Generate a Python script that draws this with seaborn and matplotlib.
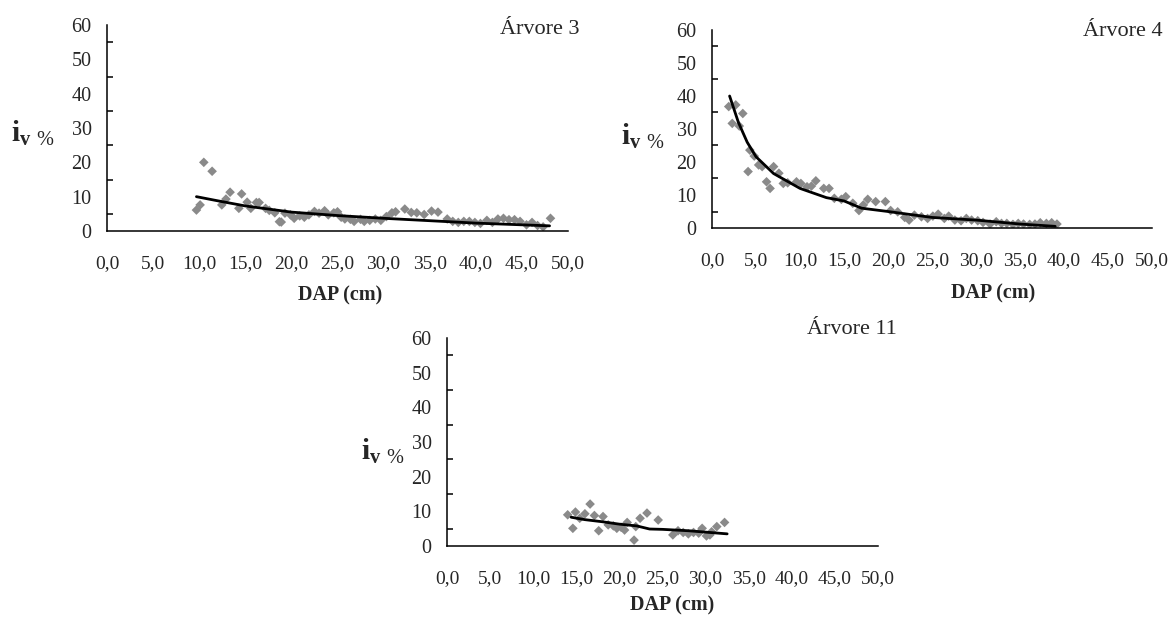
import matplotlib
matplotlib.use("Agg")
import matplotlib.pyplot as plt
import seaborn as sns
import pandas as pd
from matplotlib.ticker import MultipleLocator, FuncFormatter

# ---------------- data ----------------
# Árvore 3
a3_dap = [9.7, 10.1, 10.5, 11.4, 12.45, 12.9, 13.35, 14.3, 14.6, 15.2, 15.6, 16.2, 16.5, 17.2, 17.6,
          18.2, 18.7, 18.9, 19.3, 19.9, 20.3, 20.9, 21.4, 21.9, 22.5, 23.0, 23.6, 24.0, 24.6, 25.0,
          25.4, 25.8, 26.4, 26.8, 27.5, 27.9, 28.5, 29.1, 29.7, 30.3, 30.9, 31.3, 32.3, 33.0, 33.6,
          34.4, 35.2, 35.9, 36.9, 37.5, 38.1, 38.7, 39.3, 39.9, 40.5, 41.2, 41.8, 42.4, 43.0, 43.6,
          44.2, 44.8, 45.5, 46.1, 46.7, 47.3, 48.1]
a3_iv = [6.1, 7.6, 20.0, 17.4, 7.6, 9.3, 11.3, 6.6, 10.8, 8.4, 6.6, 8.3, 8.3, 6.6, 6.0,
         5.3, 2.7, 2.6, 5.2, 4.7, 3.7, 4.4, 4.0, 4.7, 5.7, 5.2, 5.9, 4.7, 5.3, 5.6,
         4.0, 3.5, 3.4, 2.8, 3.4, 2.8, 3.1, 3.5, 3.1, 4.2, 5.3, 5.6, 6.4, 5.4, 5.3,
         4.8, 5.8, 5.5, 3.5, 2.8, 2.5, 2.8, 2.8, 2.5, 2.2, 3.1, 2.5, 3.5, 3.7, 3.3,
         3.3, 2.8, 1.8, 2.5, 1.6, 1.2, 3.7]
a3_fit_dap = [9.7, 12.0, 15.0, 20.0, 25.0, 30.0, 35.0, 40.0, 45.0, 48.0]
a3_fit_iv = [10.0, 8.8, 7.3, 5.5, 4.5, 3.7, 3.0, 2.3, 1.8, 1.5]

# Árvore 4
a4_dap = [1.9, 2.3, 2.7, 3.1, 3.5, 4.1, 4.3, 4.8, 5.3, 5.7, 6.2, 6.6, 7.0, 7.6, 8.1, 8.6, 9.6,
          10.1, 10.8, 11.3, 11.8, 12.7, 13.3, 13.9, 14.7, 15.2, 16.0, 16.7, 17.2, 17.7, 18.6,
          19.7, 20.3, 21.1, 21.9, 22.4, 23.0, 23.8, 24.5, 25.1, 25.7, 26.4, 26.9, 27.6, 28.3,
          28.9, 29.5, 30.2, 30.8, 31.6, 32.3, 32.9, 33.5, 34.2, 34.8, 35.4, 36.1, 36.7, 37.3,
          38.0, 38.6, 39.2]
a4_iv = [36.8, 31.7, 37.3, 30.9, 34.7, 17.1, 23.6, 21.8, 19.1, 18.6, 14.0, 12.0, 18.6, 16.6, 13.5,
         13.7, 14.0, 13.5, 12.5, 12.7, 14.3, 12.0, 12.0, 9.0, 8.7, 9.5, 7.5, 5.3, 7.0, 8.7, 8.0,
         8.0, 5.3, 4.9, 3.2, 2.4, 3.9, 3.4, 2.9, 3.6, 4.2, 2.9, 3.6, 2.4, 2.2, 2.9, 2.4, 2.2,
         1.7, 1.2, 1.9, 1.4, 1.4, 1.1, 1.4, 1.2, 1.1, 1.2, 1.6, 1.4, 1.6, 1.2]
a4_fit_dap = [2.0, 3.0, 4.0, 5.0, 7.0, 10.0, 13.0, 15.0, 17.0, 20.0, 25.0, 30.0, 35.0, 39.0]
a4_fit_iv = [40.0, 32.0, 26.0, 21.6, 16.5, 12.0, 9.2, 8.2, 6.0, 5.0, 3.2, 2.4, 1.2, 0.5]

# Árvore 11
a11_dap = [14.0, 14.6, 14.9, 15.4, 16.0, 16.6, 17.1, 17.6, 18.1, 18.7, 19.3, 19.7, 20.2, 20.6,
           20.9, 21.7, 21.9, 22.4, 23.2, 24.5, 26.2, 26.8, 27.4, 28.0, 28.6, 29.2, 29.6, 30.1,
           30.5, 30.7, 31.3, 32.2]
a11_iv = [9.0, 5.1, 9.8, 8.0, 9.3, 12.1, 8.8, 4.4, 8.5, 6.1, 5.8, 5.1, 5.4, 4.6,
          6.8, 1.7, 5.6, 8.0, 9.5, 7.5, 3.2, 4.4, 3.9, 3.5, 3.9, 3.7, 5.1, 2.9,
          3.2, 4.1, 5.6, 6.8]
a11_fit_dap = [14.4, 16.0, 18.0, 20.0, 22.0, 23.5, 25.0, 28.0, 30.0, 32.5]
a11_fit_iv = [8.3, 7.6, 7.0, 6.3, 5.8, 4.9, 4.8, 4.4, 4.0, 3.5]

titles = ["Árvore 3", "Árvore 4", "Árvore 11"]
x_ticks = [0, 5, 10, 15, 20, 25, 30, 35, 40, 45, 50]
y_ticks = [0, 10, 20, 30, 40, 50, 60]

# ---------------- style ----------------
sns.set_style("white")
plt.rcParams['font.family'] = ['Liberation Serif', 'DejaVu Serif']
plt.rcParams['mathtext.fontset'] = 'custom'
plt.rcParams['mathtext.rm'] = 'Liberation Serif'
plt.rcParams['mathtext.bf'] = 'Liberation Serif:bold'

fig = plt.figure(figsize=(11.76, 6.17), dpi=100)

W, H = 1176, 617
# axes boxes in pixels: left, right, y-bottom(0), y-top(60)
boxes = [(107, 568, 231, 25), (712, 1152, 228, 30), (447, 878, 546, 338)]
title_pos = [(580, 30), (1163, 32), (897, 330)]
ylab_pos = [(11, 133), (621, 136), (361, 451)]
xlab_pos = [(340, 295), (993, 293), (672, 605)]

datasets = [
    (a3_dap, a3_iv, a3_fit_dap, a3_fit_iv),
    (a4_dap, a4_iv, a4_fit_dap, a4_fit_iv),
    (a11_dap, a11_iv, a11_fit_dap, a11_fit_iv),
]

xfmt = FuncFormatter(lambda v, p: f"{v:.1f}".replace(".", ","))

for i, ((l, r, b, t), (dx, dy, fx, fy)) in enumerate(zip(boxes, datasets)):
    ax = fig.add_axes([l / W, 1 - b / H, (r - l) / W, (b - t) / H])
    pts = pd.DataFrame({"DAP": dx, "iv": dy})
    fit = pd.DataFrame({"DAP": fx, "iv": fy})
    sns.scatterplot(data=pts, x="DAP", y="iv", ax=ax, color="#8a8a8a", marker="D",
                    s=24, edgecolor="none", zorder=2)
    sns.lineplot(data=fit, x="DAP", y="iv", ax=ax, color="black", linewidth=2.0,
                 zorder=3, sort=True)
    ax.set_xlim(0, 50)
    ax.set_ylim(0, 60)
    ax.set_xticks(x_ticks)
    ax.set_yticks(y_ticks)
    ax.xaxis.set_major_formatter(xfmt)
    ax.yaxis.set_minor_locator(MultipleLocator(5))
    ax.set_xlabel("")
    ax.set_ylabel("")
    for s in ["top", "right"]:
        ax.spines[s].set_visible(False)
    for s in ["left", "bottom"]:
        ax.spines[s].set_color("black")
        ax.spines[s].set_linewidth(1.1)
    ax.tick_params(axis="x", which="major", direction="out", length=5.5, width=1.1,
                   color="black", labelsize=14, pad=12)
    ax.tick_params(axis="y", which="major", direction="inout", length=10, width=1.1,
                   color="black", labelsize=14.5, pad=6)
    ax.tick_params(axis="y", which="minor", direction="in", length=4, width=1.1,
                   color="black", left=True)
    ax.patch.set_alpha(0)

    tx, ty = title_pos[i]
    fig.text(tx / W, 1 - ty / H, titles[i], ha="right", va="center", fontsize=16)
    yx, yy = ylab_pos[i]
    fig.text(yx / W, 1 - yy / H, r"$\mathbf{i}_{\mathbf{v}\ \mathrm{\%}}$", ha="left",
             va="center", fontsize=21)
    xx, xy = xlab_pos[i]
    fig.text(xx / W, 1 - xy / H, "DAP (cm)", ha="center", va="center",
             fontsize=14.5, fontweight="bold")

fig.savefig("out.png", dpi=100)
